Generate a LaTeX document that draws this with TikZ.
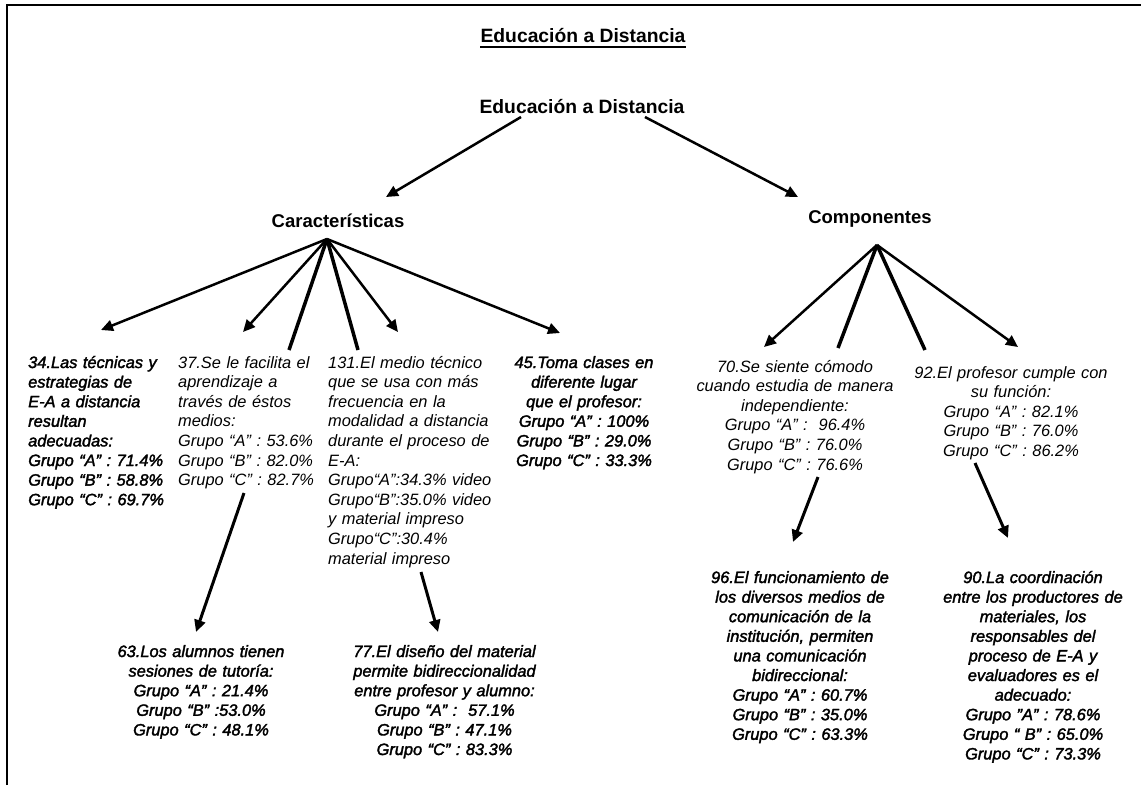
\documentclass[tikz,border=0pt]{standalone}
\usepackage{fontspec}
\setmainfont{Liberation Sans}
% emboldened italic that keeps the widths of the plain italic
\newfontfamily\heavyit{Liberation Sans}[FakeBold=2]
\usetikzlibrary{arrows.meta}
\begin{document}
\begin{tikzpicture}[x=1pt,y=-1pt,
  txt/.style={inner sep=0pt, font=\fontsize{16.4}{19.6}\selectfont\itshape},
  txtb/.style={inner sep=0pt, font=\fontsize{16.4}{19.6}\heavyit\itshape},
  head/.style={inner sep=0pt, font=\fontsize{19.3}{22}\selectfont\bfseries},
  sub/.style={inner sep=0pt, font=\fontsize{18.5}{22}\selectfont\bfseries},
  arr/.style={-{Triangle[length=12pt,width=11pt]}, line width=2.5pt},
  bar/.style={line width=3.5pt},
  down/.style={-{Triangle[length=12pt,width=11pt]}, line width=3pt}]
\useasboundingbox (0,0) rectangle (1141,785);
\fill[white] (0,0) rectangle (1141,785);

% page frame (top and left edges)
\draw[line width=2pt] (7,785) -- (7,5) -- (1141,5);

% headings
\node[head, anchor=base] (title) at (583,42) {Educación a Distancia};
\draw[line width=1.5pt] ([yshift=-5pt]title.base west) -- ([yshift=-5pt]title.base east);
\node[head, anchor=base] (root) at (582,113) {Educación a Distancia};
\node[sub, anchor=base] (car) at (338,227) {Características};
\node[sub, anchor=base] (comp) at (870,223) {Componentes};

% connector end points
\coordinate (rootL) at (521,117);
\coordinate (rootR) at (645,117);
\coordinate (carIn) at (386,197);
\coordinate (compIn) at (798,197);
\coordinate (carApex) at (327,239);
\coordinate (compApex) at (877,245);
\coordinate (t34) at (101,330);
\coordinate (t37) at (243,332);
\coordinate (e37) at (289,350);
\coordinate (e131) at (358,350);
\coordinate (t131) at (398,332);
\coordinate (t45) at (560,333);
\coordinate (t70) at (764,347);
\coordinate (e70) at (838,348);
\coordinate (e92) at (925,350);
\coordinate (t92) at (1018,347);
\coordinate (s37) at (244,493);
\coordinate (t63) at (196,632);
\coordinate (s131) at (421,572);
\coordinate (t77) at (438,632);
\coordinate (s70) at (818,477);
\coordinate (t96) at (793,542);
\coordinate (s92) at (975,463);
\coordinate (t90) at (1008,538);

% first level
\draw[arr] (rootL) -- (carIn);
\draw[arr] (rootR) -- (compIn);

% Caracteristicas fan
\draw[arr] (carApex) -- (t34);
\draw[arr] (carApex) -- (t37);
\draw[bar] (carApex) -- (e37);
\draw[bar] (carApex) -- (e131);
\draw[arr] (carApex) -- (t131);
\draw[arr] (carApex) -- (t45);

% Componentes fan
\draw[arr] (compApex) -- (t70);
\draw[bar] (compApex) -- (e70);
\draw[bar] (compApex) -- (e92);
\draw[arr] (compApex) -- (t92);

% second level
\draw[down] (s37) -- (t63);
\draw[down] (s131) -- (t77);
\draw[down] (s70) -- (t96);
\draw[down] (s92) -- (t90);

% item texts
\node[txtb, text width=160pt, align=left, anchor=base west] (q34) at (28,368)
  {34.Las técnicas y\\estrategias de\\E-A a distancia\\resultan\\adecuadas:\\Grupo “A” : 71.4\%\\Grupo “B” : 58.8\%\\Grupo “C” : 69.7\%};
\node[txt, text width=145pt, align=left, anchor=base west] (q37) at (178,368)
  {37.Se le facilita el\\aprendizaje a\\través de éstos\\medios:\\Grupo “A” : 53.6\%\\Grupo “B” : 82.0\%\\Grupo “C” : 82.7\%};
\node[txt, text width=170pt, align=left, anchor=base west] (q131) at (328,368)
  {131.El medio técnico\\que se usa con más\\frecuencia en la\\modalidad a distancia\\durante el proceso de\\E-A:\\Grupo“A”:34.3\% video\\Grupo“B”:35.0\% video\\y material impreso\\Grupo“C”:30.4\%\\material impreso};
\node[txtb, text width=160pt, align=center, anchor=base] (q45) at (584,368)
  {45.Toma clases en\\diferente lugar\\que el profesor:\\Grupo “A” : 100\%\\Grupo “B” : 29.0\%\\Grupo “C” : 33.3\%};
\node[txt, text width=210pt, align=center, anchor=base] (q70) at (795,372)
  {70.Se siente cómodo\\cuando estudia de manera\\independiente:\\Grupo “A” :\ \ 96.4\%\\Grupo “B” : 76.0\%\\Grupo “C” : 76.6\%};
\node[txt, text width=210pt, align=center, anchor=base] (q92) at (1011,378)
  {92.El profesor cumple con\\su función:\\Grupo “A” : 82.1\%\\Grupo “B” : 76.0\%\\Grupo “C” : 86.2\%};
\node[txtb, text width=200pt, align=center, anchor=base] (q63) at (201,657)
  {63.Los alumnos tienen\\sesiones de tutoría:\\Grupo “A” : 21.4\%\\Grupo “B” :53.0\%\\Grupo “C” : 48.1\%};
\node[txtb, text width=220pt, align=center, anchor=base] (q77) at (444.5,657)
  {77.El diseño del material\\permite bidireccionalidad\\entre profesor y alumno:\\Grupo “A” :\ \ 57.1\%\\Grupo “B” : 47.1\%\\Grupo “C” : 83.3\%};
\node[txtb, text width=210pt, align=center, anchor=base] (q96) at (800,583)
  {96.El funcionamiento de\\los diversos medios de\\comunicación de la\\institución, permiten\\una comunicación\\bidireccional:\\Grupo “A” : 60.7\%\\Grupo “B” : 35.0\%\\Grupo “C” : 63.3\%};
\node[txtb, text width=210pt, align=center, anchor=base] (q90) at (1033,583)
  {90.La coordinación\\entre los productores de\\materiales, los\\responsables del\\proceso de E-A y\\evaluadores es el\\adecuado:\\Grupo ”A” : 78.6\%\\Grupo “ B” : 65.0\%\\Grupo “C” : 73.3\%};
\end{tikzpicture}
\end{document}
